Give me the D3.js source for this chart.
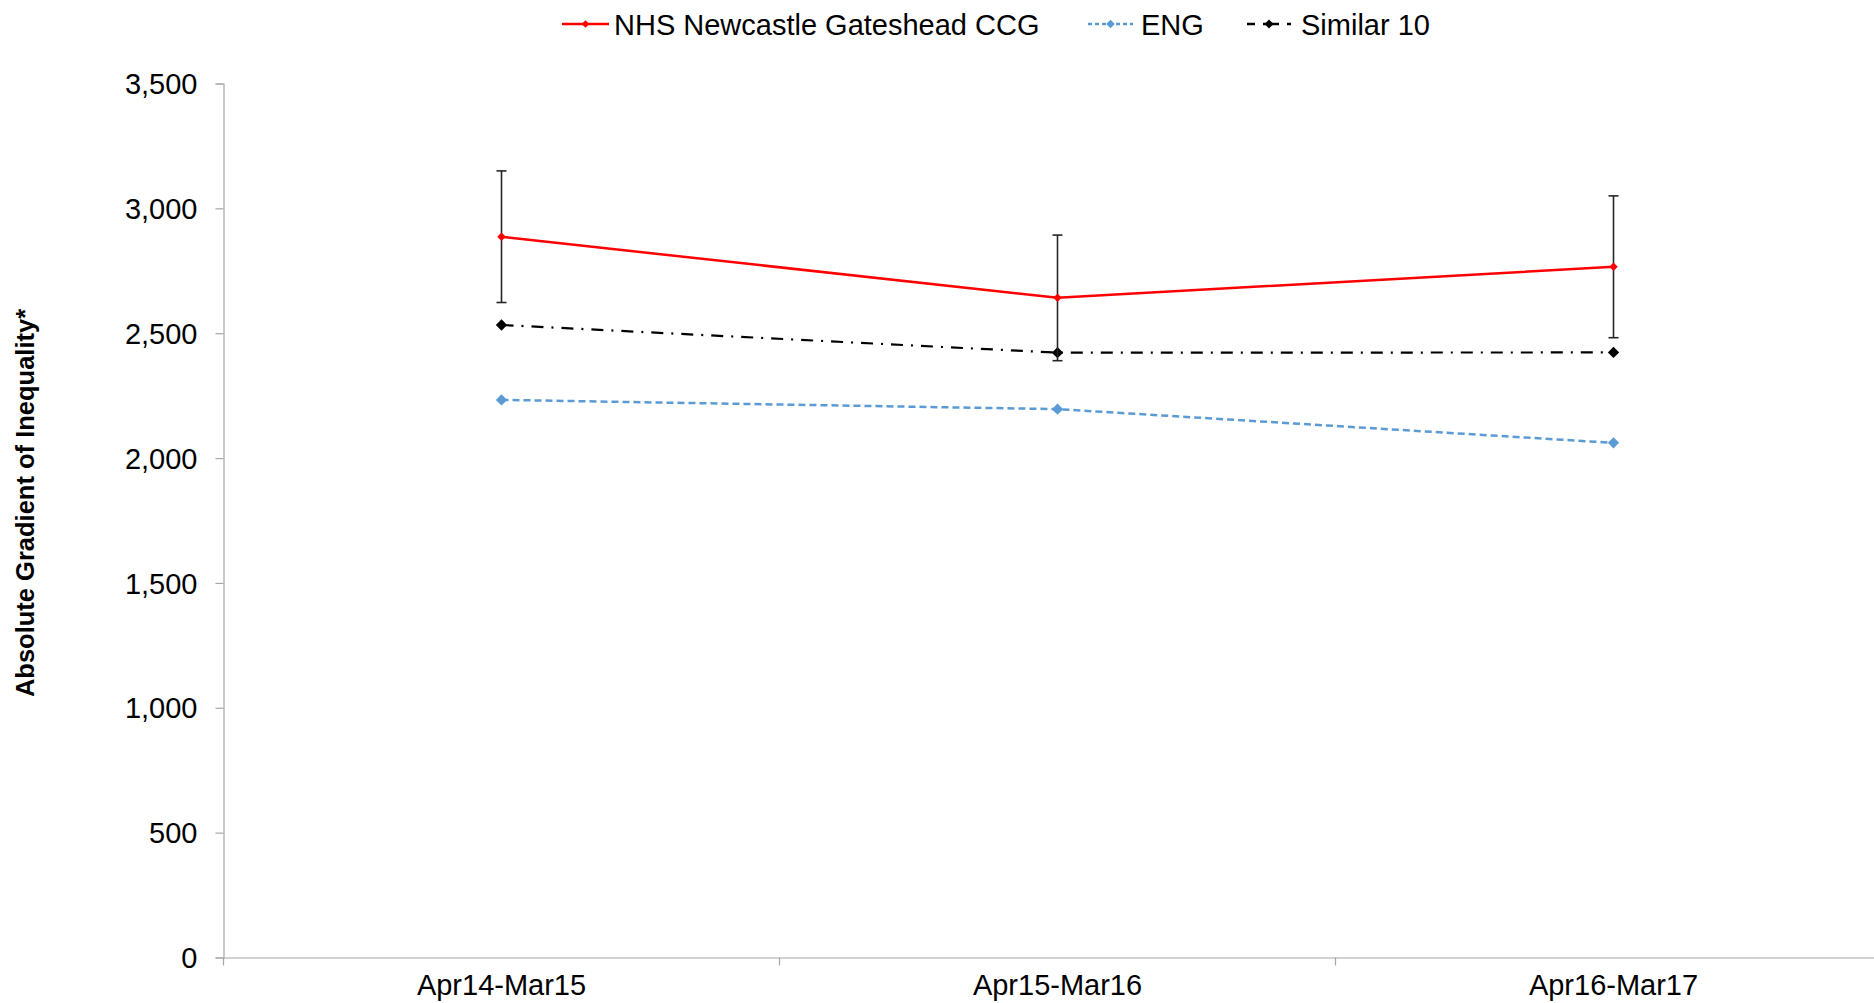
<!DOCTYPE html>
<html>
<head>
<meta charset="utf-8">
<script src="https://cdn.jsdelivr.net/npm/d3@7"></script>
<style>
  html, body { margin: 0; padding: 0; background: #fff; }
  svg { display: block; }
  text { font-family: "Liberation Sans", Arial, sans-serif; }
</style>
</head>
<body>
<svg id="chart" width="1874" height="1003"></svg>
<script>
// ---- Data ----
const categories = ["Apr14-Mar15", "Apr15-Mar16", "Apr16-Mar17"];
const ccgValues = [2886, 2642, 2766];
const ccgLower = [2623, 2390, 2482];
const ccgUpper = [3150, 2893, 3050];
const engValues = [2233, 2196, 2061];
const similarValues = [2533, 2422, 2423];
const yTicks = [0, 500, 1000, 1500, 2000, 2500, 3000, 3500];
const seriesNames = ["NHS Newcastle Gateshead CCG", "ENG", "Similar 10"];
const yTitle = "Absolute Gradient of Inequality*";

(function () {
// ---- Layout ----
const svg = d3.select("#chart");
const plotLeft = 223.5, bandW = 556, plotTop = 83.5, plotBottom = 957.5;

const x = d3.scaleBand().domain(categories).range([plotLeft, plotLeft + bandW * categories.length]).padding(0);
const y = d3.scaleLinear().domain([0, 3500]).range([plotBottom, plotTop]);
const cx = c => x(c) + x.bandwidth() / 2;

const axisColor = "#a6a6a6";

// Y axis
const yAxis = svg.append("g").attr("transform", `translate(${plotLeft},0)`)
  .call(d3.axisLeft(y).tickValues(yTicks).tickFormat(d3.format(",")).tickSize(8).tickPadding(18));
yAxis.select(".domain").attr("stroke", axisColor).attr("stroke-width", 1.2);
yAxis.selectAll(".tick line").attr("stroke", axisColor).attr("stroke-width", 1.2);
yAxis.selectAll(".tick text").attr("font-size", 29).attr("fill", "#000")
  .attr("font-family", "'Liberation Sans', Arial, sans-serif").attr("dy", "0.35em");

// X axis (labels at band centres, ticks at band boundaries)
const xAxis = svg.append("g").attr("transform", `translate(0,${plotBottom})`)
  .call(d3.axisBottom(x).tickSize(0).tickPadding(0));
xAxis.select(".domain").attr("stroke", axisColor).attr("stroke-width", 1.2);
xAxis.selectAll(".tick text").attr("font-size", 29).attr("fill", "#000")
  .attr("font-family", "'Liberation Sans', Arial, sans-serif")
  .attr("y", 37).attr("dy", 0);
const boundaries = categories.map(c => x(c)).concat([x(categories[categories.length - 1]) + x.bandwidth()]);
xAxis.selectAll("line.bt").data(boundaries).enter().append("line")
  .attr("class", "bt").attr("x1", d => d).attr("x2", d => d).attr("y1", 0).attr("y2", 8)
  .attr("stroke", axisColor).attr("stroke-width", 1.2);

// Y axis title
svg.append("text")
  .attr("transform", `translate(34,503) rotate(-90)`)
  .attr("text-anchor", "middle")
  .attr("font-size", 25.5).attr("font-weight", "bold").attr("fill", "#000")
  .text(yTitle);

// ---- Series ----
const line = d3.line().x(d => cx(d.c)).y(d => y(d.v));
const toPts = vals => categories.map((c, i) => ({ c, v: vals[i] }));

// ENG
const gEng = svg.append("g");
gEng.append("path").datum(toPts(engValues)).attr("d", line)
  .attr("fill", "none").attr("stroke", "#5b9bd5").attr("stroke-width", 2.5).attr("stroke-dasharray", "7 4");
gEng.selectAll(null).data(toPts(engValues)).enter().append("path")
  .attr("d", d3.symbol(d3.symbolSquare, 64))
  .attr("transform", d => `translate(${cx(d.c)},${y(d.v)}) rotate(45)`)
  .attr("fill", "#5b9bd5");

// Similar 10
const gSim = svg.append("g");
gSim.append("path").datum(toPts(similarValues)).attr("d", line)
  .attr("fill", "none").attr("stroke", "#000").attr("stroke-width", 2.2).attr("stroke-dasharray", "12 8 2 8");
gSim.selectAll(null).data(toPts(similarValues)).enter().append("path")
  .attr("d", d3.symbol(d3.symbolSquare, 64))
  .attr("transform", d => `translate(${cx(d.c)},${y(d.v)}) rotate(45)`)
  .attr("fill", "#000");

// Error bars for CCG
const gErr = svg.append("g");
categories.forEach((c, i) => {
  const xc = cx(c);
  gErr.append("line").attr("x1", xc).attr("x2", xc).attr("y1", y(ccgUpper[i])).attr("y2", y(ccgLower[i]))
    .attr("stroke", "#262626").attr("stroke-width", 1.6);
  [ccgUpper[i], ccgLower[i]].forEach(v => {
    gErr.append("line").attr("x1", xc - 5).attr("x2", xc + 5).attr("y1", y(v)).attr("y2", y(v))
      .attr("stroke", "#262626").attr("stroke-width", 1.6);
  });
});

// CCG
const gCcg = svg.append("g");
gCcg.append("path").datum(toPts(ccgValues)).attr("d", line)
  .attr("fill", "none").attr("stroke", "#ff0000").attr("stroke-width", 2.5);
gCcg.selectAll(null).data(toPts(ccgValues)).enter().append("path")
  .attr("d", d3.symbol(d3.symbolSquare, 36))
  .attr("transform", d => `translate(${cx(d.c)},${y(d.v)}) rotate(45)`)
  .attr("fill", "#ff0000");

// ---- Legend ----
const legend = svg.append("g");
const legendItems = [
  { name: seriesNames[0], color: "#ff0000", dash: null, x1: 562, x2: 609, tx: 614, msize: 30 },
  { name: seriesNames[1], color: "#5b9bd5", dash: "4 3", x1: 1088, x2: 1133, tx: 1141, msize: 36 },
  { name: seriesNames[2], color: "#000", dash: "8 8 16 8", x1: 1247, x2: 1291, tx: 1301, msize: 40 }
];
legendItems.forEach(it => {
  const ly = 24;
  legend.append("line").attr("x1", it.x1).attr("x2", it.x2).attr("y1", ly).attr("y2", ly)
    .attr("stroke", it.color).attr("stroke-width", 2.5).attr("stroke-dasharray", it.dash);
  legend.append("path").attr("d", d3.symbol(d3.symbolSquare, it.msize))
    .attr("transform", `translate(${(it.x1 + it.x2) / 2},${ly}) rotate(45)`).attr("fill", it.color);
  legend.append("text").attr("x", it.tx).attr("y", ly + 10.5).attr("font-size", 29).attr("fill", "#000").text(it.name);
});
})();
</script>
</body>
</html>
